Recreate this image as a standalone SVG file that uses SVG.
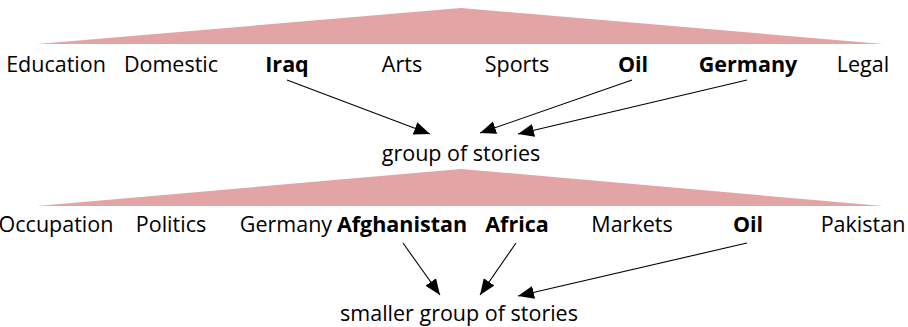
<svg xmlns="http://www.w3.org/2000/svg" width="908" height="327" viewBox="0 0 908 327">
<style>
text{font-family:"Open Sans","DejaVu Sans",sans-serif;font-size:21.5px;fill:#000;text-anchor:middle}
.b{font-weight:bold}
.tri{fill:#e2a4a4}
.edge{stroke:#000;stroke-width:1.1;fill:none;marker-end:url(#ah)}
</style>
<defs>
<marker id="ah" markerUnits="userSpaceOnUse" markerWidth="17" markerHeight="14" viewBox="0 0 17 14" refX="16" refY="7" orient="auto">
<path d="M0,0.5 L16,7 L0,13.5 Z" fill="#000"/>
</marker>
</defs>
<g id="tri1"><polygon class="tri" points="37,44 461,8 883,44"/></g>
<g id="tri2"><polygon class="tri" points="37,206 461,169 883,206"/></g>
<g id="row1">
<g id="n-education"><text x="56" y="72">Education</text></g>
<g id="n-domestic"><text x="171" y="72">Domestic</text></g>
<g id="n-iraq"><text class="b" x="287" y="72">Iraq</text></g>
<g id="n-arts"><text x="402" y="72">Arts</text></g>
<g id="n-sports"><text x="517" y="72">Sports</text></g>
<g id="n-oil1"><text class="b" x="633" y="72">Oil</text></g>
<g id="n-germany1"><text class="b" x="748" y="72">Germany</text></g>
<g id="n-legal"><text x="863" y="72">Legal</text></g>
</g>
<g id="n-group"><text x="461" y="161">group of stories</text></g>
<g id="row2">
<g id="n-occupation"><text x="56" y="232">Occupation</text></g>
<g id="n-politics"><text x="171" y="232">Politics</text></g>
<g id="n-germany2"><text x="286" y="232">Germany</text></g>
<g id="n-afghanistan"><text class="b" x="402" y="232">Afghanistan</text></g>
<g id="n-africa"><text class="b" x="517" y="232">Africa</text></g>
<g id="n-markets"><text x="632" y="232">Markets</text></g>
<g id="n-oil2"><text class="b" x="748" y="232">Oil</text></g>
<g id="n-pakistan"><text x="863" y="232">Pakistan</text></g>
</g>
<g id="n-smaller"><text x="459" y="321">smaller group of stories</text></g>
<g id="connectors">
<line class="edge" x1="287" y1="80" x2="430" y2="134"/>
<line class="edge" x1="632" y1="80" x2="480" y2="133"/>
<line class="edge" x1="747" y1="80" x2="518" y2="134"/>
<line class="edge" x1="403" y1="243" x2="440" y2="295"/>
<line class="edge" x1="516" y1="243" x2="480" y2="295"/>
<line class="edge" x1="747" y1="243" x2="518" y2="296"/>
</g>
</svg>
